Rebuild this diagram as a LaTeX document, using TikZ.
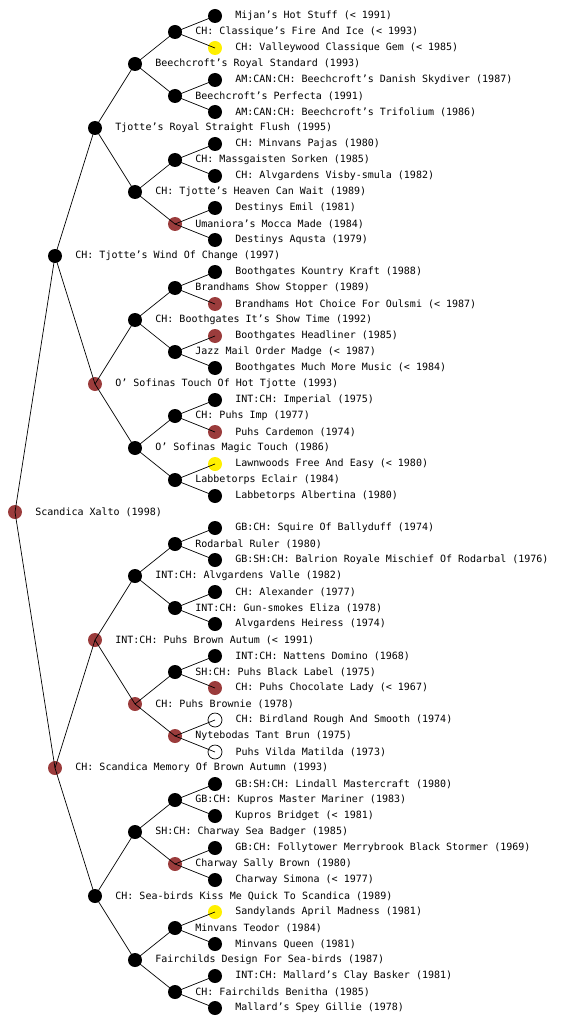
\documentclass[tikz,border=0pt]{standalone}
\usepackage{fontspec}
\newfontfamily\pedfont{DejaVu Sans Mono}
\usepackage{xcolor}
\usetikzlibrary{positioning}

\definecolor{dogbrown}{RGB}{155,60,60}
\definecolor{dogyellow}{RGB}{255,240,0}

\begin{document}
\begin{tikzpicture}[
x=1pt, y=-1pt,
    dog/.style={circle, inner sep=0pt, minimum size=14pt},
    blk/.style={dog, fill=black},
    brn/.style={dog, fill=dogbrown},
    ylw/.style={dog, fill=dogyellow},
    wht/.style={dog, draw=black, line width=0.7pt, fill=white},
    link/.style={draw, line width=0.7pt},
    label distance=13pt,
    every label/.style={inner sep=0pt, font=\pedfont\fontsize{10}{12}\selectfont}
]
    \useasboundingbox (0,0) rectangle (560,1024);

    % --- Sire side ---
    \node[blk, label=right:{Mijan’s Hot Stuff (< 1991)}] (xsssss) at (215,16) {};
    \node[blk, label=right:{CH: Classique’s Fire And Ice (< 1993)}] (xssss) at (175,32) {};
    \node[ylw, label=right:{CH: Valleywood Classique Gem (< 1985)}] (xssssd) at (215,48) {};
    \node[blk, label=right:{Beechcroft’s Royal Standard (1993)}] (xsss) at (135,64) {};
    \node[blk, label=right:{AM:CAN:CH: Beechcroft’s Danish Skydiver (1987)}] (xsssds) at (215,80) {};
    \node[blk, label=right:{Beechcroft’s Perfecta (1991)}] (xsssd) at (175,96) {};
    \node[blk, label=right:{AM:CAN:CH: Beechcroft’s Trifolium (1986)}] (xsssdd) at (215,112) {};
    \node[blk, label=right:{Tjotte’s Royal Straight Flush (1995)}] (xss) at (95,128) {};
    \node[blk, label=right:{CH: Minvans Pajas (1980)}] (xssdss) at (215,144) {};
    \node[blk, label=right:{CH: Massgaisten Sorken (1985)}] (xssds) at (175,160) {};
    \node[blk, label=right:{CH: Alvgardens Visby-smula (1982)}] (xssdsd) at (215,176) {};
    \node[blk, label=right:{CH: Tjotte’s Heaven Can Wait (1989)}] (xssd) at (135,192) {};
    \node[blk, label=right:{Destinys Emil (1981)}] (xssdds) at (215,208) {};
    \node[brn, label=right:{Umaniora’s Mocca Made (1984)}] (xssdd) at (175,224) {};
    \node[blk, label=right:{Destinys Aqusta (1979)}] (xssddd) at (215,240) {};
    \node[blk, label=right:{CH: Tjotte’s Wind Of Change (1997)}] (xs) at (55,256) {};
    \node[blk, label=right:{Boothgates Kountry Kraft (1988)}] (xsdsss) at (215,272) {};
    \node[blk, label=right:{Brandhams Show Stopper (1989)}] (xsdss) at (175,288) {};
    \node[brn, label=right:{Brandhams Hot Choice For Oulsmi (< 1987)}] (xsdssd) at (215,304) {};
    \node[blk, label=right:{CH: Boothgates It’s Show Time (1992)}] (xsds) at (135,320) {};
    \node[brn, label=right:{Boothgates Headliner (1985)}] (xsdsds) at (215,336) {};
    \node[blk, label=right:{Jazz Mail Order Madge (< 1987)}] (xsdsd) at (175,352) {};
    \node[blk, label=right:{Boothgates Much More Music (< 1984)}] (xsdsdd) at (215,368) {};
    \node[brn, label=right:{O’ Sofinas Touch Of Hot Tjotte (1993)}] (xsd) at (95,384) {};
    \node[blk, label=right:{INT:CH: Imperial (1975)}] (xsddss) at (215,400) {};
    \node[blk, label=right:{CH: Puhs Imp (1977)}] (xsdds) at (175,416) {};
    \node[brn, label=right:{Puhs Cardemon (1974)}] (xsddsd) at (215,432) {};
    \node[blk, label=right:{O’ Sofinas Magic Touch (1986)}] (xsdd) at (135,448) {};
    \node[ylw, label=right:{Lawnwoods Free And Easy (< 1980)}] (xsddds) at (215,464) {};
    \node[blk, label=right:{Labbetorps Eclair (1984)}] (xsddd) at (175,480) {};
    \node[blk, label=right:{Labbetorps Albertina (1980)}] (xsdddd) at (215,496) {};

    % --- The dog itself ---
    \node[brn, label=right:{Scandica Xalto (1998)}] (x) at (15,512) {};

    % --- Dam side ---
    \node[blk, label=right:{GB:CH: Squire Of Ballyduff (1974)}] (xdssss) at (215,528) {};
    \node[blk, label=right:{Rodarbal Ruler (1980)}] (xdsss) at (175,544) {};
    \node[blk, label=right:{GB:SH:CH: Balrion Royale Mischief Of Rodarbal (1976)}] (xdsssd) at (215,560) {};
    \node[blk, label=right:{INT:CH: Alvgardens Valle (1982)}] (xdss) at (135,576) {};
    \node[blk, label=right:{CH: Alexander (1977)}] (xdssds) at (215,592) {};
    \node[blk, label=right:{INT:CH: Gun-smokes Eliza (1978)}] (xdssd) at (175,608) {};
    \node[blk, label=right:{Alvgardens Heiress (1974)}] (xdssdd) at (215,624) {};
    \node[brn, label=right:{INT:CH: Puhs Brown Autum (< 1991)}] (xds) at (95,640) {};
    \node[blk, label=right:{INT:CH: Nattens Domino (1968)}] (xdsdss) at (215,656) {};
    \node[blk, label=right:{SH:CH: Puhs Black Label (1975)}] (xdsds) at (175,672) {};
    \node[brn, label=right:{CH: Puhs Chocolate Lady (< 1967)}] (xdsdsd) at (215,688) {};
    \node[brn, label=right:{CH: Puhs Brownie (1978)}] (xdsd) at (135,704) {};
    \node[wht, label=right:{CH: Birdland Rough And Smooth (1974)}] (xdsdds) at (215,720) {};
    \node[brn, label=right:{Nytebodas Tant Brun (1975)}] (xdsdd) at (175,736) {};
    \node[wht, label=right:{Puhs Vilda Matilda (1973)}] (xdsddd) at (215,752) {};
    \node[brn, label=right:{CH: Scandica Memory Of Brown Autumn (1993)}] (xd) at (55,768) {};
    \node[blk, label=right:{GB:SH:CH: Lindall Mastercraft (1980)}] (xddsss) at (215,784) {};
    \node[blk, label=right:{GB:CH: Kupros Master Mariner (1983)}] (xddss) at (175,800) {};
    \node[blk, label=right:{Kupros Bridget (< 1981)}] (xddssd) at (215,816) {};
    \node[blk, label=right:{SH:CH: Charway Sea Badger (1985)}] (xdds) at (135,832) {};
    \node[blk, label=right:{GB:CH: Follytower Merrybrook Black Stormer (1969)}] (xddsds) at (215,848) {};
    \node[brn, label=right:{Charway Sally Brown (1980)}] (xddsd) at (175,864) {};
    \node[blk, label=right:{Charway Simona (< 1977)}] (xddsdd) at (215,880) {};
    \node[blk, label=right:{CH: Sea-birds Kiss Me Quick To Scandica (1989)}] (xdd) at (95,896) {};
    \node[ylw, label=right:{Sandylands April Madness (1981)}] (xdddss) at (215,912) {};
    \node[blk, label=right:{Minvans Teodor (1984)}] (xddds) at (175,928) {};
    \node[blk, label=right:{Minvans Queen (1981)}] (xdddsd) at (215,944) {};
    \node[blk, label=right:{Fairchilds Design For Sea-birds (1987)}] (xddd) at (135,960) {};
    \node[blk, label=right:{INT:CH: Mallard’s Clay Basker (1981)}] (xdddds) at (215,976) {};
    \node[blk, label=right:{CH: Fairchilds Benitha (1985)}] (xdddd) at (175,992) {};
    \node[blk, label=right:{Mallard’s Spey Gillie (1978)}] (xddddd) at (215,1008) {};

    % --- Parent links: sire (s) up, dam (d) down ---
    \foreach \p in {x, xs, xd, xss, xsd, xds, xdd,
                    xsss, xssd, xsds, xsdd, xdss, xdsd, xdds, xddd,
                    xssss, xsssd, xssds, xssdd, xsdss, xsdsd, xsdds, xsddd,
                    xdsss, xdssd, xdsds, xdsdd, xddss, xddsd, xddds, xdddd}{
        \draw[link] (\p.center) -- (\p s.center);
        \draw[link] (\p.center) -- (\p d.center);
    }

\end{tikzpicture}
\end{document}
